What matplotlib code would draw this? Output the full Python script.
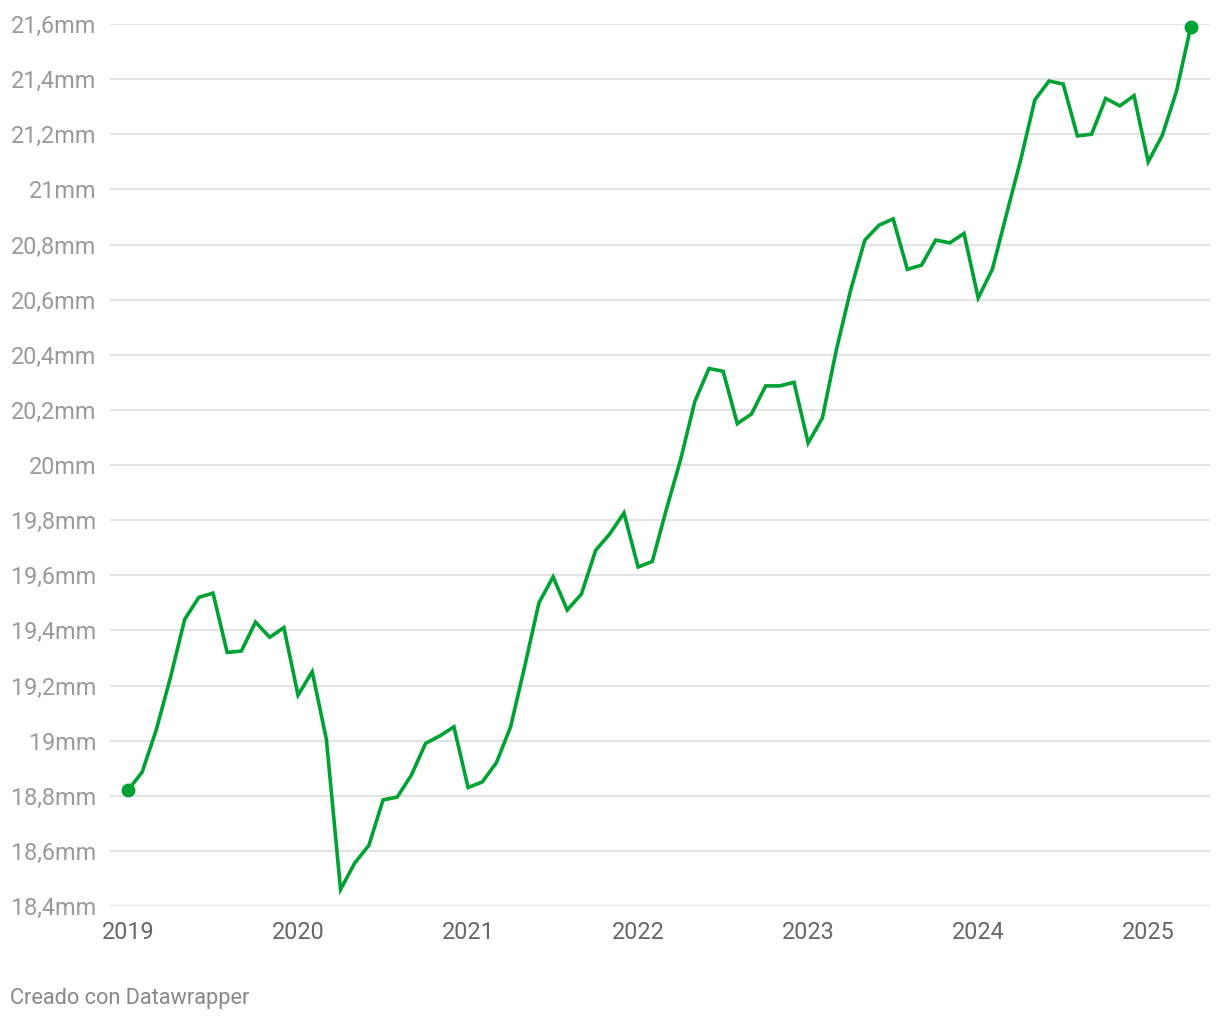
import numpy as np
import matplotlib.pyplot as plt
from matplotlib.ticker import FixedLocator

plt.rcParams['font.family'] = ['Roboto', 'DejaVu Sans']

# monthly values, Jan 2019 .. Apr 2025 (in mm)
start_year = 2019
values = [
    18.82, 18.886, 19.04, 19.23, 19.44, 19.52, 19.535, 19.32, 19.325, 19.43, 19.375, 19.41,
    19.165, 19.25, 19.005, 18.46, 18.556, 18.62, 18.785, 18.795, 18.875, 18.99, 19.017, 19.05,
    18.83, 18.85, 18.92, 19.05, 19.27, 19.50, 19.594, 19.474, 19.532, 19.69, 19.75, 19.826,
    19.63, 19.65, 19.84, 20.02, 20.23, 20.35, 20.34, 20.15, 20.185, 20.287, 20.287, 20.30,
    20.08, 20.17, 20.42, 20.635, 20.816, 20.87, 20.893, 20.71, 20.725, 20.816, 20.806, 20.84,
    20.606, 20.71, 20.91, 21.107, 21.325, 21.393, 21.382, 21.194, 21.2, 21.33, 21.303, 21.34,
    21.10, 21.197, 21.357, 21.59,
]
y_ticks = [18.4, 18.6, 18.8, 19.0, 19.2, 19.4, 19.6, 19.8, 20.0, 20.2, 20.4, 20.6, 20.8,
           21.0, 21.2, 21.4, 21.6]
x_ticks = [2019, 2020, 2021, 2022, 2023, 2024, 2025]

GREEN = '#00a234'

x = start_year + np.arange(len(values)) / 12.0

fig = plt.figure(figsize=(12.2, 10.22), dpi=100)
ax = fig.add_axes([110 / 1220, 1 - 906 / 1022, 1100 / 1220, 882 / 1022])

ax.plot(x, values, color=GREEN, lw=2.6, solid_joinstyle='miter', clip_on=False, zorder=3)
ax.plot([x[0], x[-1]], [values[0], values[-1]], 'o', color=GREEN, ms=9,
        clip_on=False, zorder=4)

ax.set_xlim(start_year - 1.27 / 12, start_year + 76.36 / 12)
ax.set_ylim(18.4, 21.6)

def fmt(v):
    s = ('%.1f' % v).replace('.', ',')
    if s.endswith(',0'):
        s = s[:-2]
    return s + 'mm'

ax.yaxis.set_major_locator(FixedLocator(y_ticks))
ax.set_yticklabels([fmt(v) for v in y_ticks])
ax.xaxis.set_major_locator(FixedLocator(x_ticks))
ax.set_xticklabels([str(v) for v in x_ticks])

ax.grid(axis='y', color='#e0e0e0', lw=1.3)
ax.set_axisbelow(True)
for s in ax.spines.values():
    s.set_visible(False)
ax.tick_params(axis='both', length=0, labelsize=16.8)
ax.tick_params(axis='y', colors='#9a9a9a', pad=10)
ax.tick_params(axis='x', colors='#666666', pad=11)

fig.text(10 / 1220, 1 - 998 / 1022, 'Creado con Datawrapper', fontsize=15.7,
         color='#888888', va='center', ha='left')

fig.savefig('out.png', dpi=100, facecolor='white')
